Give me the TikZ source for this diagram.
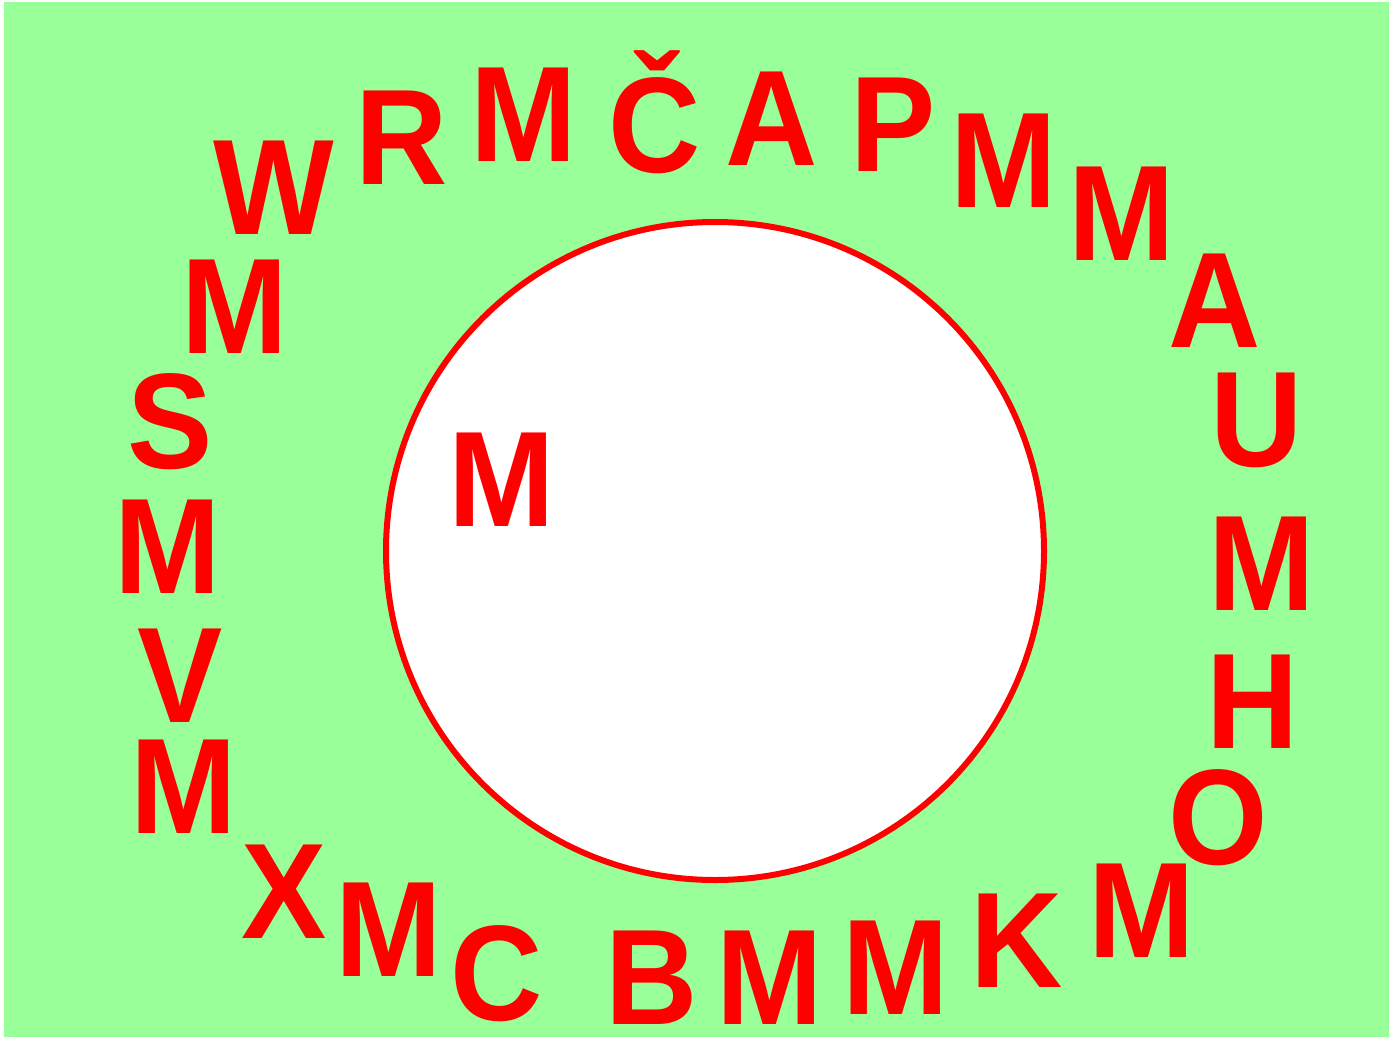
\documentclass[tikz,border=0pt]{standalone}
\usepackage{fontspec}
\setmainfont{Liberation Sans}
\usepackage{graphicx}
\usepackage{xcolor}
\definecolor{ltRed}{HTML}{FF0000}
\definecolor{ltGreen}{HTML}{99FF99}
\newcommand{\narrow}[1]{\scalebox{0.94}[1]{#1}}
\tikzset{
  ltr/.style={anchor=south, inner sep=0pt, text depth=0pt, text=ltRed, font=\fontsize{136}{136}\selectfont\bfseries},
  ring/.style={draw=ltRed, fill=white, line width=6pt},
}
\begin{document}
\begin{tikzpicture}[x=1pt,y=-1pt]
    \useasboundingbox (0,0) rectangle (1395,1039);
    % field and ring
    \fill[ltGreen] (4,2) rectangle (1389,1037);
    \node[ring, circle, minimum size=658pt] (ring) at (715,551) {};
    % letters round the ring
    \foreach \i/\x/\y/\ch in {1/274/235/W, 2/402/185/R, 3/524/162/M, 4/655/173/Č,
        5/772/166/A, 6/893/172/P, 7/1004/208/M, 8/1122/261/M, 9/1215/348/A,
        10/1257/467/U, 11/1262/611/M, 12/1253/749/H, 13/1218/865/O, 14/1142/958/M,
        15/1017/988/K, 16/896/1015/M, 17/770/1025/M, 18/652/1025/B, 19/497/1021/C,
        20/389/977/M, 21/284/939/X, 22/184/834/M, 23/180/723/V, 24/168/594/M,
        25/170/469/S, 26/235/354/M} {
        \node[ltr] (l\i) at (\x,\y) {\narrow{\ch}};
    }
    % letter inside
    \node[ltr] (inner) at (502,527) {\narrow{M}};
\end{tikzpicture}
\end{document}
